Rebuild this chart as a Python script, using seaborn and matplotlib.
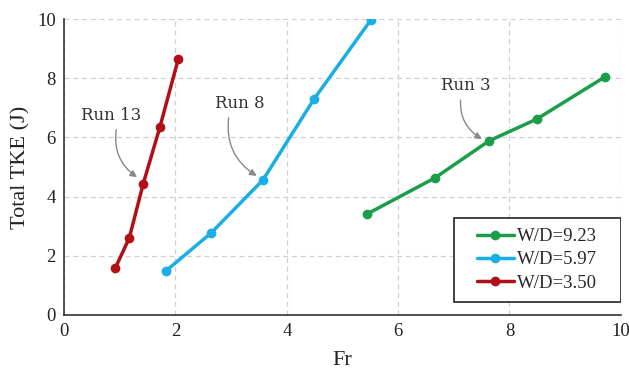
import matplotlib
matplotlib.use("Agg")
import matplotlib.pyplot as plt
from matplotlib.patches import Rectangle
import seaborn as sns
import pandas as pd

fr_923 = [5.44, 6.66, 7.63, 8.49, 9.71]
tke_923 = [3.41, 4.63, 5.88, 6.62, 8.04]
fr_597 = [1.83, 2.64, 3.57, 4.49, 5.51]
tke_597 = [1.49, 2.77, 4.56, 7.30, 9.97]
fr_350 = [0.92, 1.17, 1.42, 1.72, 2.05]
tke_350 = [1.59, 2.60, 4.43, 6.35, 8.65]
series = ["W/D=9.23", "W/D=5.97", "W/D=3.50"]
colors = ["#1a9e4a", "#1aaee6", "#b01015"]

df = pd.concat([
    pd.DataFrame({"Fr": fr_923, "TKE": tke_923, "s": series[0]}),
    pd.DataFrame({"Fr": fr_597, "TKE": tke_597, "s": series[1]}),
    pd.DataFrame({"Fr": fr_350, "TKE": tke_350, "s": series[2]}),
])

sns.set_style("white")
plt.rcParams["font.family"] = ["Liberation Serif", "DejaVu Serif"]

fig = plt.figure(figsize=(6.29, 3.74), dpi=100)
ax = fig.add_axes([0.102, 0.158, 0.885, 0.791])
sns.lineplot(data=df, x="Fr", y="TKE", hue="s", palette=dict(zip(series, colors)),
             marker="o", markersize=7, markeredgewidth=0, linewidth=2.5, sort=False,
             estimator=None, ax=ax)

ax.set_xlim(0, 10)
ax.set_ylim(0, 10)
ax.set_xticks([0, 2, 4, 6, 8, 10])
ax.set_yticks([0, 2, 4, 6, 8, 10])
ax.grid(True, color="#d0d0d0", linestyle=(0, (4, 3)), linewidth=0.9)
for s in ["top", "right"]:
    ax.spines[s].set_visible(False)
for s in ["left", "bottom"]:
    ax.spines[s].set_color("#333333")
    ax.spines[s].set_linewidth(1.2)
ax.tick_params(axis="both", length=0, labelsize=13.5, pad=6, colors="#222222")
ax.set_xlabel("Fr", fontsize=16, labelpad=8, color="#222222")
ax.set_ylabel("Total TKE (J)", fontsize=16, labelpad=5, color="#222222")

# legend frame drawn as a rectangle, legend content centered inside it
box = (0.700, 0.044, 0.300, 0.284)
ax.add_patch(Rectangle(box[:2], box[2], box[3], transform=ax.transAxes,
                       facecolor="white", edgecolor="#222222", linewidth=1.2,
                       zorder=4))
leg = ax.legend(loc="center", bbox_to_anchor=box, fontsize=13.5, frameon=False,
                handlelength=1.95, handletextpad=0.2, borderpad=0,
                labelspacing=0.32, borderaxespad=0)
leg.set_zorder(5)
leg.set_title(None)

ann_font = dict(fontsize=12, family=["DejaVu Serif"], color="#333333")
arrow = dict(arrowstyle="-|>", color="#888888", lw=1.0, mutation_scale=10,
             connectionstyle="arc3,rad=0.35")
ax.annotate("Run 13", xy=(1.35, 4.6), xytext=(0.85, 6.75), ha="center", va="center",
            arrowprops=dict(arrow, relpos=(0.6, 0.0)), **ann_font)
ax.annotate("Run 8", xy=(3.5, 4.65), xytext=(3.15, 7.15), ha="center", va="center",
            arrowprops=dict(arrow, relpos=(0.3, 0.0)), **ann_font)
ax.annotate("Run 3", xy=(7.55, 5.9), xytext=(7.22, 7.75), ha="center", va="center",
            arrowprops=dict(arrow, relpos=(0.4, 0.0)), **ann_font)

fig.savefig("out.png", dpi=100)
